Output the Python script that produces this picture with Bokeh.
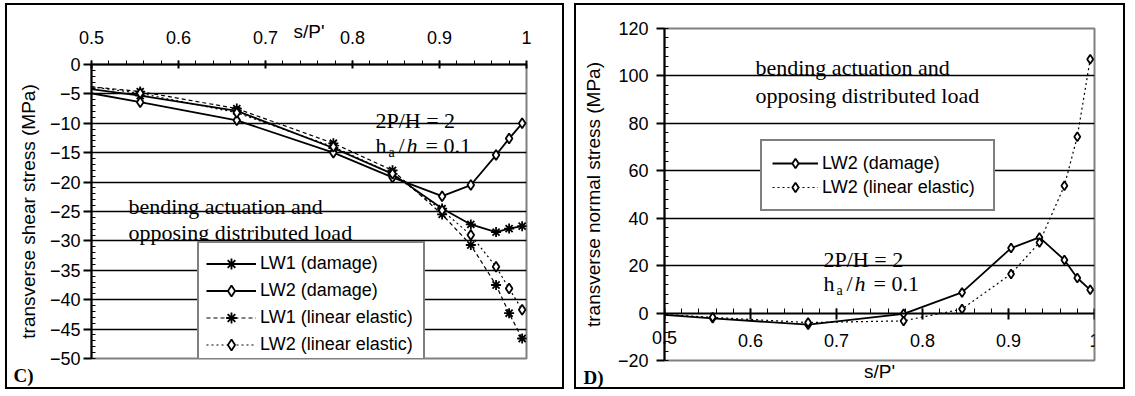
from bokeh.plotting import figure
from bokeh.models import (Range1d, LinearAxis, FixedTicker, CustomJSTickFormatter,
                          Label, Legend, LegendItem, Title)
from bokeh.layouts import row
from bokeh.embed import file_html
from bokeh.resources import INLINE
import numpy as np

# ---------------- data ----------------
s_pos = [0.444, 0.556, 0.667, 0.778, 0.846, 0.903, 0.936, 0.965, 0.980, 0.995]

# panel C: transverse shear stress (MPa)
lw1_damage_shear = [-3.1, -5.3, -7.9, -14.2, -18.6, -24.5, -27.2, -28.5, -27.9, -27.5]
lw2_damage_shear = [-3.4, -6.4, -9.5, -15.0, -19.2, -22.4, -20.5, -15.4, -12.6, -10.0]
lw1_elastic_shear = [-3.0, -4.6, -7.5, -13.4, -18.0, -25.5, -30.7, -37.5, -42.3, -46.6]
lw2_elastic_shear = [-2.7, -4.9, -8.2, -14.0, -18.6, -24.8, -29.0, -34.4, -38.1, -41.7]

# panel D: transverse normal stress (MPa)
lw2_damage_normal = [0.6, -2.2, -4.9, -0.3, 8.7, 27.4, 31.9, 22.4, 14.8, 9.8]
lw2_elastic_normal = [0.6, -1.8, -4.0, -3.3, 1.7, 16.5, 29.8, 53.7, 74.4, 107.0]

x_ticks = [0.5, 0.6, 0.7, 0.8, 0.9, 1.0]
shear_ticks = [0, -5, -10, -15, -20, -25, -30, -35, -40, -45, -50]
normal_ticks = [-20, 0, 20, 40, 60, 80, 100, 120]

labels_c = ["LW1 (damage)", "LW2 (damage)", "LW1 (linear elastic)", "LW2 (linear elastic)"]
labels_d = ["LW2 (damage)", "LW2 (linear elastic)"]
panel_tags = ["C)", "D)"]

SANS = "Liberation Sans"
SERIF = "Liberation Serif"
GRAY = "#808080"

fmt = CustomJSTickFormatter(code="return String(Math.round(tick*10)/10);")


def style_axis(ax, size="18px"):
    ax.major_label_text_font = SANS
    ax.major_label_text_font_size = size
    ax.major_label_text_color = "black"
    ax.axis_label_text_font = SANS
    ax.axis_label_text_font_size = "19px"
    ax.axis_label_text_font_style = "normal"
    ax.axis_label_text_color = "black"
    ax.axis_line_color = "black"
    ax.axis_line_width = 2
    ax.major_tick_line_color = "black"
    ax.major_tick_line_width = 2
    ax.minor_tick_line_color = "black"
    ax.minor_tick_line_width = 1


def add_series(p, y, dash, marker, lw, size):
    r1 = p.line(s_pos, y, line_color="black", line_width=lw, line_dash=dash)
    r2 = p.scatter(s_pos, y, marker=marker, size=size, line_color="black",
                   fill_color="white", line_width=1.8)
    return [r1, r2]


def text(p, x, y, t, size="22px", font=SERIF, style="normal", xo=0, yo=0,
         align="left", baseline="alphabetic"):
    p.add_layout(Label(x=x, y=y, text=t, text_font=font, text_font_size=size,
                       text_font_style=style, text_color="black", text_align=align,
                       text_baseline=baseline, x_offset=xo, y_offset=yo))


def ratio_label(p, x, y):
    text(p, x, y, "h", xo=0)
    text(p, x, y, "a", size="14px", xo=13, yo=-7)
    text(p, x, y, "/", xo=23)
    text(p, x, y, "h", style="italic", xo=31)
    text(p, x, y, "= 0.1", xo=50)


def no_frame_align(p):
    if "frame_align" in p.properties():
        p.frame_align = False


def tag_title(t, offset, standoff):
    return Title(text=t, align="left", offset=offset, vertical_align="top",
                 standoff=standoff, text_font=SERIF, text_font_size="19px",
                 text_font_style="bold", text_color="black")


# ---------------- panel C ----------------
p1 = figure(width=559, height=386, x_range=Range1d(0.5, 1.0), y_range=Range1d(-50, 0),
            output_backend="svg", toolbar_location=None, x_axis_location="above",
            min_border_left=84, min_border_right=40, min_border_top=59, min_border_bottom=33)
no_frame_align(p1)
p1.styles = {"border": "2px solid black", "margin-left": "5px", "margin-top": "3px"}
p1.outline_line_color = GRAY
p1.outline_line_width = 2
p1.background_fill_color = "white"
p1.border_fill_color = "white"

xa = p1.xaxis[0]
xa.ticker = FixedTicker(ticks=x_ticks, minor_ticks=list(np.arange(0.5, 1.0001, 0.02)))
xa.formatter = fmt
xa.axis_label = "s/P'"
style_axis(xa)
xa.major_tick_in = 4
xa.major_tick_out = 4
xa.minor_tick_in = 0
xa.minor_tick_out = 4
xa.major_label_standoff = 17
xa.axis_label_standoff = -14

ya = p1.yaxis[0]
ya.ticker = FixedTicker(ticks=shear_ticks, minor_ticks=list(np.arange(-50, 0.01, 1)))
ya.axis_label = "transverse shear stress (MPa)"
style_axis(ya)
ya.major_tick_in = 0
ya.major_tick_out = 8
ya.minor_tick_in = 4
ya.minor_tick_out = 0
ya.major_label_standoff = 3
ya.axis_label_standoff = 8

# blank spacer below the frame, then the panel tag
p1.add_layout(Title(text=" ", standoff=0, text_font=SERIF, text_font_size="18px"), "below")
p1.add_layout(tag_title(panel_tags[0], -78, -31), "below")

p1.xgrid.visible = False
p1.ygrid.ticker = FixedTicker(ticks=shear_ticks[1:-1])
p1.ygrid.grid_line_color = "black"
p1.ygrid.grid_line_width = 1.5

items = []
for y, dash, mk, lw, lab in [
        (lw1_damage_shear, "solid", "asterisk", 1.8, labels_c[0]),
        (lw2_damage_shear, "solid", "diamond", 1.8, labels_c[1]),
        (lw1_elastic_shear, "4 3", "asterisk", 1.2, labels_c[2]),
        (lw2_elastic_shear, "2 3", "diamond", 1.2, labels_c[3])]:
    rs = add_series(p1, y, dash, mk, lw, 10)
    items.append(LegendItem(label=lab, renderers=rs))

leg1 = Legend(items=items, location=(106, -9))
p1.add_layout(leg1)

text(p1, 0.8264, -9.5, "2P/H = 2")
ratio_label(p1, 0.8264, -13.7)
text(p1, 0.5425, -24.2, "bending actuation and")
text(p1, 0.5425, -28.5, "opposing distributed load")

# ---------------- panel D ----------------
p2 = figure(width=551, height=386, x_range=Range1d(0.5, 1.0), y_range=Range1d(-20, 120),
            output_backend="svg", toolbar_location=None, x_axis_location=None,
            min_border_left=88, min_border_right=33, min_border_top=23, min_border_bottom=31)
no_frame_align(p2)
p2.styles = {"border": "2px solid black", "margin-top": "3px"}
p2.outline_line_color = GRAY
p2.outline_line_width = 2
p2.background_fill_color = "white"
p2.border_fill_color = "white"

xb = LinearAxis(fixed_location=0,
                ticker=FixedTicker(ticks=x_ticks, minor_ticks=list(np.arange(0.5, 1.0001, 0.02))),
                formatter=fmt, major_label_overrides={0.5: ""})
style_axis(xb)
xb.major_tick_in = 5
xb.major_tick_out = 6
xb.minor_tick_in = 5
xb.minor_tick_out = 0
xb.major_label_standoff = 15
p2.add_layout(xb, "below")

# outer axis: carries the first tick label (drawn across the y axis) and the title
xl = LinearAxis(ticker=FixedTicker(ticks=x_ticks[:1]), formatter=fmt, axis_label="s/P'")
style_axis(xl)
xl.axis_line_color = None
xl.major_tick_in = 0
xl.major_tick_out = 0
xl.minor_tick_in = 0
xl.minor_tick_out = 0
xl.major_label_standoff = -30
xl.axis_label_standoff = 14
p2.add_layout(xl, "below")
p2.add_layout(tag_title(panel_tags[1], -81, -36), "below")

yb = p2.yaxis[0]
yb.ticker = FixedTicker(ticks=normal_ticks, minor_ticks=list(np.arange(-20, 120.01, 4)))
yb.axis_label = "transverse normal stress (MPa)"
style_axis(yb)
yb.major_tick_in = 0
yb.major_tick_out = 8
yb.minor_tick_in = 4
yb.minor_tick_out = 0
yb.major_label_standoff = 8
yb.axis_label_standoff = 11

p2.xgrid.visible = False
p2.ygrid.ticker = FixedTicker(ticks=[t for t in normal_ticks if t not in (-20, 0, 120)])
p2.ygrid.grid_line_color = "black"
p2.ygrid.grid_line_width = 1.5

items2 = []
for y, dash, lw, lab in [
        (lw2_damage_normal, "solid", 1.8, labels_d[0]),
        (lw2_elastic_normal, "2 3", 1.2, labels_d[1])]:
    rs = add_series(p2, y, dash, "diamond", lw, 9)
    items2.append(LegendItem(label=lab, renderers=rs))

leg2 = Legend(items=items2, location=(96, 149))
p2.add_layout(leg2)

text(p2, 0.6058, 103.7, "bending actuation and")
text(p2, 0.6058, 91.7, "opposing distributed load")
text(p2, 0.6849, 22.8, "2P/H = 2")
ratio_label(p2, 0.6849, 12.3)

for lg, gw, gh, lwid, pad in [(leg1, 50, 27, 156, 7), (leg2, 46, 24, 161, 10)]:
    lg.border_line_color = "black"
    lg.border_line_width = 2
    lg.background_fill_color = "white"
    lg.background_fill_alpha = 1
    lg.label_text_font = SANS
    lg.label_text_font_size = "18px"
    lg.label_text_color = "black"
    lg.glyph_width = gw
    lg.glyph_height = gh
    lg.label_height = gh
    lg.label_width = lwid
    lg.label_standoff = 4
    lg.padding = pad
    lg.spacing = 0
    lg.margin = 0

layout = row(p1, p2, spacing=10)
open("out.html", "w").write(file_html(layout, INLINE))
